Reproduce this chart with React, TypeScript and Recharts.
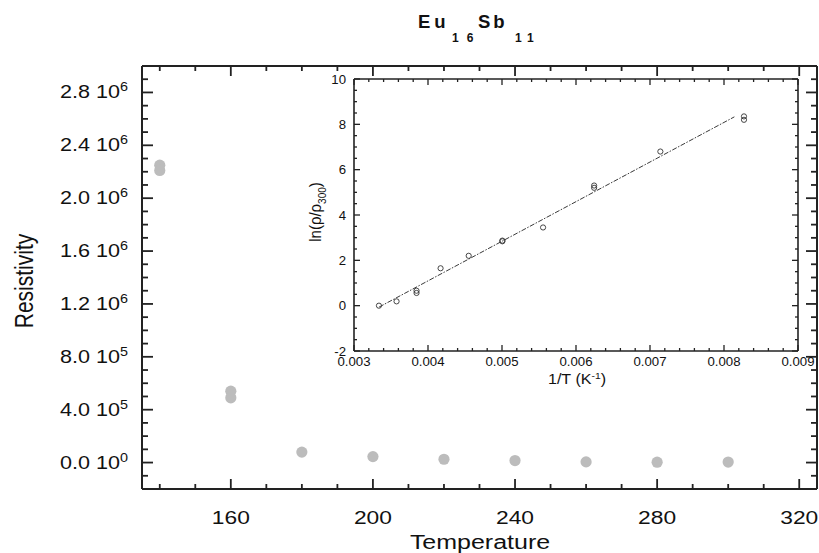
import React from 'react';
import { ScatterChart, Scatter, XAxis, YAxis } from 'recharts';

// main panel: resistivity vs temperature (two readings at 140 K and 160 K)
const TEMPERATURE = [140, 140, 160, 160, 180, 200, 220, 240, 260, 280, 300];
const RESISTIVITY = [2.25e6, 2.21e6, 5.4e5, 4.9e5, 7.9e4, 4.5e4, 2.5e4, 1.5e4, 5e3, 3e3, 4e3];
const TEMP_LABELS = [160, 200, 240, 280, 320];
const RHO_LABELS = [0, 4e5, 8e5, 1.2e6, 1.6e6, 2.0e6, 2.4e6, 2.8e6];

// inset: ln(rho/rho300) vs 1/T with linear fit
const INV_T = [0.003337, 0.003575, 0.003845, 0.003845, 0.00417, 0.00455, 0.005005, 0.005005, 0.005555, 0.006245, 0.006245, 0.00714, 0.00827, 0.00827];
const LN_RATIO = [0, 0.19, 0.56, 0.66, 1.65, 2.2, 2.84, 2.87, 3.45, 5.2, 5.3, 6.8, 8.2, 8.35];
const FIT_INV_T = [0.00334, 0.00814];
const FIT_LN = [-0.06, 8.33];
const INV_T_LABELS = [0.003, 0.004, 0.005, 0.006, 0.007, 0.008, 0.009];
const LN_LABELS = [-2, 0, 2, 4, 6, 8, 10];

const FONT = '"Liberation Sans", Arial, Helvetica, sans-serif';
const INK = '#222222';
const DOT = '#bcbcbc';

const steps = (from: number, to: number, step: number) => {
  const out: number[] = [];
  for (let i = 0; from + i * step <= to + step * 1e-6; i++) out.push(+(from + i * step).toFixed(6));
  return out;
};
const isLabel = (list: number[], v: number) => list.some((l) => Math.abs(l - v) < 1e-9);

const MAIN_X_TICKS = steps(140, 320, 10);
const MAIN_Y_TICKS = steps(-1e5, 2.9e6, 1e5);
const INSET_X_TICKS = steps(0.003, 0.009, 0.0002);
const INSET_Y_TICKS = steps(-2, 10, 0.5);

const mainPoints = TEMPERATURE.map((t, i) => ({ t, rho: RESISTIVITY[i] }));
const insetPoints = INV_T.map((x, i) => ({ x, y: LN_RATIO[i] }));
const fitPoints = FIT_INV_T.map((x, i) => ({ x, y: FIT_LN[i] }));

type Side = 'bottom' | 'top' | 'left' | 'right';

// inward tick marks (long at labelled values, short otherwise) plus optional label
const makeTick = (
  side: Side,
  labels: number[],
  majorLen: number,
  minorLen: number,
  width: number,
  renderLabel?: (x: number, y: number, v: number) => React.ReactNode,
) => (props: any) => {
  const x = Number(props.x);
  const y = Number(props.y);
  const v = props.payload.value;
  const major = isLabel(labels, v);
  const len = major ? majorLen : minorLen;
  let d = '';
  if (side === 'bottom') d = `M${x},${y}V${y - len}`;
  if (side === 'top') d = `M${x},${y}V${y + len}`;
  if (side === 'left') d = `M${x},${y}H${x + len}`;
  if (side === 'right') d = `M${x},${y}H${x - len}`;
  return (
    <g>
      <path d={d} stroke={INK} strokeWidth={width} fill="none" />
      {major && renderLabel ? renderLabel(x, y, v) : null}
    </g>
  );
};

const sciParts = (v: number) => {
  if (v === 0) return ['0.0', '0'];
  const exp = Math.floor(Math.log10(v) + 1e-9);
  return [(v / Math.pow(10, exp)).toFixed(1), String(exp)];
};

const mainBottom = makeTick('bottom', TEMP_LABELS, 10, 5, 1.8, (x, y, v) => (
  <text transform={`translate(${x},${y + 35}) scale(1.2,1)`} textAnchor="middle" fontSize={19} fontFamily={FONT} fill="#111">
    {v}
  </text>
));
const mainTop = makeTick('top', TEMP_LABELS, 10, 5, 1.8);
const mainLeft = makeTick('left', RHO_LABELS, 11, 6, 1.8, (x, y, v) => {
  const [m, e] = sciParts(v);
  return (
    <text transform={`translate(${x - 14},${y + 6}) scale(1.2,1)`} textAnchor="end" fontSize={18} fontFamily={FONT} fill="#111">
      <tspan>{m} 10</tspan>
      <tspan dy={-7} fontSize={12}>{e}</tspan>
    </text>
  );
});
const mainRight = makeTick('right', RHO_LABELS, 11, 6, 1.8);

const insetBottom = makeTick('bottom', INV_T_LABELS, 6, 3, 1.3, (x, y, v) => (
  <text transform={`translate(${x},${y + 15}) scale(1.1,1)`} textAnchor="middle" fontSize={12} fontFamily={FONT} fill="#111">
    {v.toFixed(3)}
  </text>
));
const insetTop = makeTick('top', INV_T_LABELS, 6, 3, 1.3);
const insetLeft = makeTick('left', LN_LABELS, 6, 3, 1.3, (x, y, v) => (
  <text transform={`translate(${x - 8},${y + 4.5}) scale(1.1,1)`} textAnchor="end" fontSize={12} fontFamily={FONT} fill="#111">
    {v}
  </text>
));
const insetRight = makeTick('right', LN_LABELS, 6, 3, 1.3);

const GrayDot = (p: any) => <circle cx={p.cx} cy={p.cy} r={5.6} fill={DOT} />;
const OpenDot = (p: any) => <circle cx={p.cx} cy={p.cy} r={2.6} fill="none" stroke="#333" strokeWidth={0.9} />;
const NoDot = () => <g />;

const axisProps = {
  type: 'number' as const,
  allowDataOverflow: true,
  tickSize: 0,
  tickMargin: 0,
  tickLine: false,
  interval: 0 as const,
};
const mainLine = { stroke: INK, strokeWidth: 2 };
const insetLine = { stroke: INK, strokeWidth: 1.6 };

export default function App() {
  return (
    <div style={{ position: 'fixed', left: 0, top: 0, width: 819, height: 553, background: '#fff' }}>
      <div style={{ position: 'absolute', left: 0, top: 0 }}>
        <ScatterChart width={819} height={553} margin={{ top: 65, right: 1, bottom: 0, left: 0 }}>
          <XAxis {...axisProps} xAxisId="b" dataKey="t" domain={[135, 325]} ticks={MAIN_X_TICKS} height={64}
            axisLine={mainLine} tick={mainBottom} />
          <XAxis {...axisProps} xAxisId="t" orientation="top" dataKey="t" domain={[135, 325]} ticks={MAIN_X_TICKS} height={1}
            axisLine={mainLine} tick={mainTop} />
          <YAxis {...axisProps} yAxisId="l" dataKey="rho" domain={[-2e5, 3e6]} ticks={MAIN_Y_TICKS} width={142}
            axisLine={mainLine} tick={mainLeft} />
          <YAxis {...axisProps} yAxisId="r" orientation="right" dataKey="rho" domain={[-2e5, 3e6]} ticks={MAIN_Y_TICKS} width={1}
            axisLine={mainLine} tick={mainRight} />
          <Scatter xAxisId="b" yAxisId="l" data={mainPoints} shape={GrayDot} isAnimationActive={false} />
          <Scatter xAxisId="t" yAxisId="r" data={mainPoints} shape={NoDot} isAnimationActive={false} />
        </ScatterChart>
      </div>

      <div style={{ position: 'absolute', left: 290, top: 70 }}>
        <ScatterChart width={530} height={318} margin={{ top: 8, right: 21, bottom: 0, left: 0 }}>
          <XAxis {...axisProps} xAxisId="b" dataKey="x" domain={[0.003, 0.009]} ticks={INSET_X_TICKS} height={37}
            axisLine={insetLine} tick={insetBottom} />
          <XAxis {...axisProps} xAxisId="t" orientation="top" dataKey="x" domain={[0.003, 0.009]} ticks={INSET_X_TICKS} height={1}
            axisLine={insetLine} tick={insetTop} />
          <YAxis {...axisProps} yAxisId="l" dataKey="y" domain={[-2, 10]} ticks={INSET_Y_TICKS} width={64}
            axisLine={insetLine} tick={insetLeft} />
          <YAxis {...axisProps} yAxisId="r" orientation="right" dataKey="y" domain={[-2, 10]} ticks={INSET_Y_TICKS} width={1}
            axisLine={insetLine} tick={insetRight} />
          <Scatter xAxisId="b" yAxisId="l" data={fitPoints} shape={NoDot} isAnimationActive={false}
            line={{ stroke: '#3a3a3a', strokeWidth: 1, strokeDasharray: '5 1.5 1.5 1.5' }} />
          <Scatter xAxisId="b" yAxisId="l" data={insetPoints} shape={OpenDot} isAnimationActive={false} />
          <Scatter xAxisId="t" yAxisId="r" data={insetPoints} shape={NoDot} isAnimationActive={false} />
        </ScatterChart>
      </div>

      <svg width={819} height={553} style={{ position: 'absolute', left: 0, top: 0, pointerEvents: 'none' }}>
        <g fontFamily={FONT} fontWeight="bold" fill="#111">
          <text x={418} y={28} fontSize={18.5} letterSpacing={4}>Eu</text>
          <text x={452} y={41.5} fontSize={12} letterSpacing={8}>16</text>
          <text x={478} y={28} fontSize={18.5} letterSpacing={3}>Sb</text>
          <text x={515} y={41.5} fontSize={12} letterSpacing={6}>11</text>
        </g>
        <text transform="translate(480,549) scale(1.25,1)" textAnchor="middle" fontSize={20} fontFamily={FONT} fill="#111">
          Temperature
        </text>
        <text transform="translate(33,281) scale(1.25,1) rotate(-90)" textAnchor="middle" fontSize={21} fontFamily={FONT} fill="#111">
          Resistivity
        </text>
        <text transform="translate(577,384) scale(1.15,1)" textAnchor="middle" fontSize={14} fontFamily={FONT} fill="#111">
          <tspan>1/T (K</tspan>
          <tspan dy={-5} fontSize={9}>-1</tspan>
          <tspan dy={5}>)</tspan>
        </text>
        <text transform="translate(321,212) scale(1.15,1) rotate(-90)" textAnchor="middle" fontSize={15} fontFamily={FONT} fill="#111">
          <tspan>ln(ρ/ρ</tspan>
          <tspan dy={4} fontSize={10}>300</tspan>
          <tspan dy={-4}>)</tspan>
        </text>
      </svg>
    </div>
  );
}
